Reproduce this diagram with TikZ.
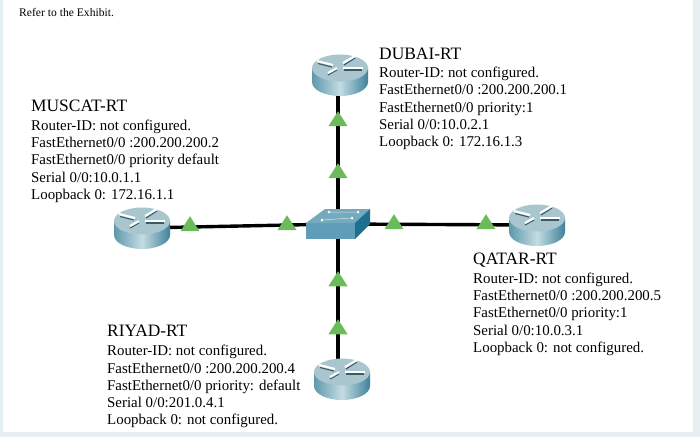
\documentclass[tikz,border=0pt]{standalone}
\usepackage{fontspec}
\setmainfont{Liberation Serif}
\usetikzlibrary{shapes.geometric}
\definecolor{framec}{HTML}{E6F0F3}
\definecolor{rtop}{HTML}{A9C6CF}
\definecolor{rsideL}{HTML}{5F98AC}
\definecolor{rsideM}{HTML}{C3DCE3}
\definecolor{rsideR}{HTML}{3F8199}
\definecolor{swfront}{HTML}{5F9DB9}
\definecolor{swtop}{HTML}{74A9BE}
\definecolor{swside}{HTML}{1F6F8F}
\definecolor{trig}{HTML}{6CBB5A}
\tikzset{
  x=1pt,y=-1pt,
  routernode/.style={circle,minimum size=40pt,inner sep=0pt},
  tri/.style={fill=trig,draw=none,isosceles triangle,isosceles triangle apex angle=65,shape border rotate=90,minimum height=15pt,minimum width=17pt,inner sep=0pt},
  linkline/.style={line width=3.4pt,black},
  title/.style={anchor=base west,font=\fontsize{17.4}{17.4}\selectfont,inner sep=0pt},
  info/.style={anchor=north west,align=left,inner sep=0pt,font=\fontsize{14.9}{17.3}\selectfont},
}
\newcommand{\routerdraw}[1]{%
  \begin{scope}[shift={(#1)}]
    \path[left color=rsideL,right color=rsideR,middle color=rsideM]
      (-28,-7) -- (-28,7) .. controls (-28,14.7) and (-15.5,21) .. (0,21)
      .. controls (15.5,21) and (28,14.7) .. (28,7) -- (28,-7) -- cycle;
    \fill[rtop] (0,-7) ellipse[x radius=28,y radius=13.5];
    \begin{scope}[rsideL!60!black,line width=1.1pt]
      \draw (-22,-11.5) -- (-8,-8);
      \draw (-3,-5) -- (-12,0);
      \draw (4,-10) -- (15,-17);
      \draw (4,-5) -- (22,-5);
    \end{scope}
    \begin{scope}[white,line width=2.1pt]
      \draw (-23,-14) -- (-7,-10);
      \draw (-3,-7) -- (-12,-2);
      \draw (3,-12) -- (15,-19);
      \draw (3,-7) -- (23,-7);
    \end{scope}
  \end{scope}}
\begin{document}
\begin{tikzpicture}
\useasboundingbox (0,0) rectangle (700,437);
\fill[framec] (0,0) rectangle (700,437);
\fill[white] (3,0) rectangle (693,432);
\node[routernode] (dubai) at (340,75) {};
\node[routernode] (muscat) at (142,228) {};
\node[routernode] (qatar) at (537,225) {};
\node[routernode] (riyad) at (342,379) {};
\coordinate (swc) at (338,224);
\node[inner sep=0pt,minimum width=64pt,minimum height=30pt] (switch) at (swc) {};
\draw[linkline] (338,88) -- (switch.center);
\draw[linkline] (muscat.center) -- (switch.center);
\draw[linkline] (qatar.center) -- (switch.center);
\draw[linkline] (338,370) -- (switch.center);
\routerdraw{340,75}
\routerdraw{142,228}
\routerdraw{537,225}
\routerdraw{342,379}
\fill[swfront] (306,223) rectangle (355,239);
\fill[swtop] (306,223) -- (325,209) -- (370,209) -- (355,223) -- cycle;
\fill[swside] (355,223) -- (370,209) -- (370,224) -- (355,239) -- cycle;
\foreach \p in {(329,212),(358,212),(322,220),(352,218)} \fill[white] \p circle[radius=1.5];
\draw[white!70!swtop,line width=0.5pt] (322,220) -- (352,218) (329,212) -- (358,212);
\node[tri] (t1) at (338,121) {};
\node[tri] (t2) at (338,173) {};
\node[tri] (t3) at (338,281) {};
\node[tri] (t4) at (338,329) {};
\node[tri] (t5) at (190,226) {};
\node[tri] (t6) at (287,225) {};
\node[tri] (t7) at (394,224) {};
\node[tri] (t8) at (486,224) {};
\node[anchor=base west,inner sep=0pt,font=\fontsize{11.6}{14}\selectfont] (head) at (19,16) {Refer to the Exhibit.};
\node[title] (t-dubai) at (379,59) {DUBAI-RT};
\node[info] (i-dubai) at (379,67) {Router-ID: not configured.\\FastEthernet0/0 :200.200.200.1\\FastEthernet0/0 priority:1\\Serial 0/0:10.0.2.1\\Loopback 0: 172.16.1.3};
\node[title] (t-muscat) at (31,111) {MUSCAT-RT};
\node[info] (i-muscat) at (31,119.5) {Router-ID: not configured.\\FastEthernet0/0 :200.200.200.2\\FastEthernet0/0 priority default\\Serial 0/0:10.0.1.1\\Loopback 0: 172.16.1.1};
\node[title] (t-qatar) at (473,264) {QATAR-RT};
\node[info] (i-qatar) at (473,272.5) {Router-ID: not configured.\\FastEthernet0/0 :200.200.200.5\\FastEthernet0/0 priority:1\\Serial 0/0:10.0.3.1\\Loopback 0: not configured.};
\node[title] (t-riyad) at (107,336) {RIYAD-RT};
\node[info] (i-riyad) at (107,345) {Router-ID: not configured.\\FastEthernet0/0 :200.200.200.4\\FastEthernet0/0 priority: default\\Serial 0/0:201.0.4.1\\Loopback 0: not configured.};
\end{tikzpicture}
\end{document}
